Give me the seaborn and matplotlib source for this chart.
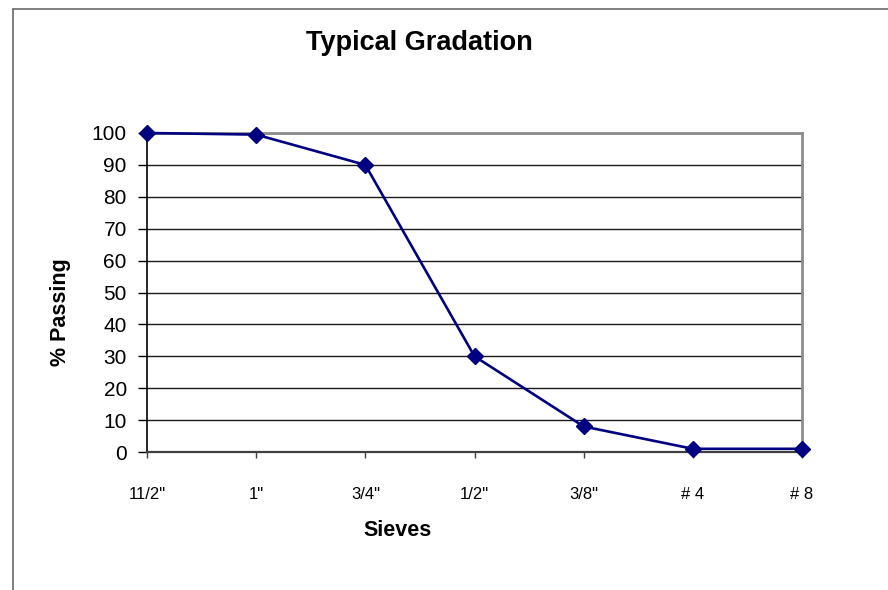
import matplotlib
matplotlib.use("Agg")
import matplotlib.pyplot as plt
from matplotlib.lines import Line2D
import seaborn as sns
import pandas as pd

sieves = ['11/2"', '1"', '3/4"', '1/2"', '3/8"', '# 4', '# 8']
passing = [100, 99.5, 90, 30, 8, 1, 1]

sns.set_theme(style="white")
plt.rcParams["font.family"] = ["Liberation Sans", "DejaVu Sans"]
plt.rcParams["text.color"] = "black"
plt.rcParams["xtick.color"] = "black"
plt.rcParams["ytick.color"] = "black"

df = pd.DataFrame({"Sieves": sieves, "Passing": passing})

fig = plt.figure(figsize=(8.88, 5.90), dpi=100)
ax = fig.add_axes([147 / 888, 1 - 452 / 590, (802 - 147) / 888, (452 - 133) / 590])

sns.lineplot(data=df, x="Sieves", y="Passing", sort=False, ax=ax,
             color="#000080", marker="D", markersize=7.8, linewidth=1.9,
             markeredgecolor="#000080", markeredgewidth=1, zorder=5,
             clip_on=False)

ax.set_xlim(0, len(sieves) - 1)
ax.set_ylim(0, 100)
ax.set_yticks(range(0, 101, 10))
ax.set_xticks(range(len(sieves)))
ax.set_xticklabels(sieves)

ax.grid(axis="y", color="#1a1a1a", linewidth=1)
ax.grid(axis="x", visible=False)
ax.set_axisbelow(True)

for side in ("top", "right"):
    ax.spines[side].set_color("#8c8c8c")
    ax.spines[side].set_linewidth(2)
ax.spines["left"].set_color("black")
ax.spines["left"].set_linewidth(1.2)
ax.spines["bottom"].set_color("#404040")
ax.spines["bottom"].set_linewidth(1.6)

ax.tick_params(axis="y", left=True, length=6.5, width=1, color="black",
               labelsize=15, pad=8, labelcolor="black")
ax.tick_params(axis="x", bottom=True, length=4.5, width=1, color="#404040",
               labelsize=12, pad=21, labelcolor="black")
ax.set_xlabel("")
ax.set_ylabel("")

fig.text(419 / 888, 1 - 43 / 590, "Typical Gradation", ha="center", va="center",
         fontsize=19.5, fontweight="bold", color="black")
fig.text(398 / 888, 1 - 530 / 590, "Sieves", ha="center", va="center",
         fontsize=15.5, fontweight="bold", color="black")
fig.text(60 / 888, 1 - 312 / 590, "% Passing", ha="center", va="center",
         rotation=90, fontsize=15.5, fontweight="bold", color="black")

# outer chart frame
x0 = 12.5 / 888
y0 = 1 - 8.5 / 590
fig.add_artist(Line2D([x0, x0], [0, y0], transform=fig.transFigure,
                      color="#6a6a6a", linewidth=1.2))
fig.add_artist(Line2D([x0, 1], [y0, y0], transform=fig.transFigure,
                      color="#6a6a6a", linewidth=1.2))

fig.savefig("out.png", dpi=100, facecolor="white")
